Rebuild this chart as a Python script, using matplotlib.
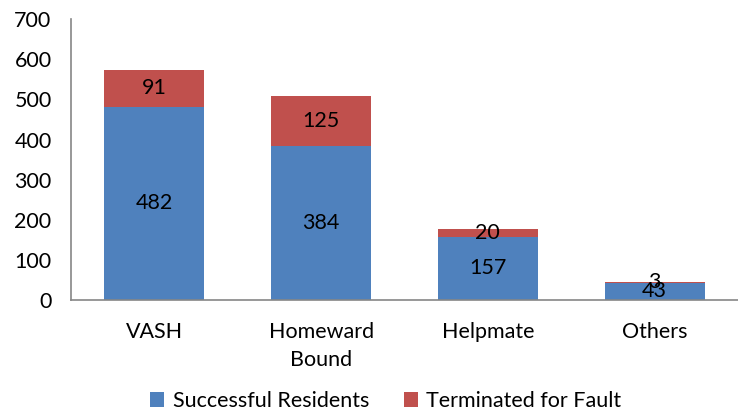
import matplotlib
matplotlib.use("Agg")
import matplotlib.pyplot as plt
import numpy as np

categories = ["VASH", "Homeward\nBound", "Helpmate", "Others"]
successful = [482, 384, 157, 43]
terminated = [91, 125, 20, 3]
series_names = ["Successful Residents", "Terminated for Fault"]
yticks = [0, 100, 200, 300, 400, 500, 600, 700]

plt.rcParams['font.family'] = ['Lato', 'DejaVu Sans']
FS = 15.5

fig = plt.figure(figsize=(7.38, 4.17), dpi=100)
ax = fig.add_axes([0.0962, 0.2806, 0.9038, 0.6734])

x = np.arange(len(categories))
blue = "#4F81BD"
red = "#C0504D"
b1 = ax.bar(x, successful, width=0.6, color=blue, label=series_names[0])
b2 = ax.bar(x, terminated, width=0.6, bottom=successful, color=red, label=series_names[1])

for i in range(len(categories)):
    ax.text(x[i], successful[i] / 2, str(successful[i]), ha='center', va='center', fontsize=FS)
    ax.text(x[i], successful[i] + terminated[i] / 2, str(terminated[i]), ha='center', va='center', fontsize=FS)

ax.set_xlim(-0.5, len(categories) - 0.5)
ax.set_ylim(0, 700)
ax.set_yticks(yticks)
ax.set_xticks(x)
ax.set_xticklabels(categories, fontsize=FS, linespacing=1.5)
ax.tick_params(axis='y', labelsize=FS, length=0, pad=14)
ax.tick_params(axis='x', length=0, pad=16)
for s in ['top', 'right']:
    ax.spines[s].set_visible(False)
for s in ['left', 'bottom']:
    ax.spines[s].set_color('#868686')
    ax.spines[s].set_linewidth(1.2)

fig.legend(handles=[b1, b2], labels=series_names, loc='center', bbox_to_anchor=(0.523, 0.038),
           ncol=2, frameon=False, fontsize=FS, handlelength=0.65, handleheight=0.65,
           columnspacing=1.6, handletextpad=0.4)

fig.savefig("out.png", dpi=100)
